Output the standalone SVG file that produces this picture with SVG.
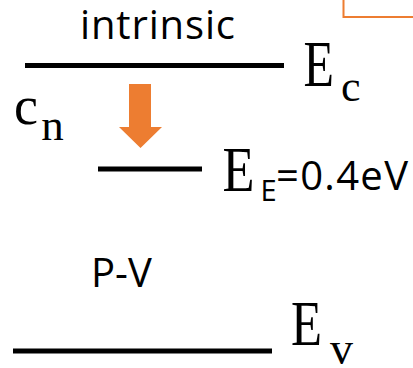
<svg xmlns="http://www.w3.org/2000/svg" width="413" height="368" viewBox="0 0 413 368">
  <style>
    .lvl { stroke: #000; stroke-width: 5; fill: none; }
    .sans { font-family: "Open Sans", "Liberation Sans", sans-serif; fill: #000; }
    .serif { font-family: "Liberation Serif", "Times New Roman", serif; fill: #000; }
    .orange { fill: #ED7D31; }
  </style>
  <rect x="0" y="0" width="413" height="368" fill="#fff"/>
  <g id="corner-box">
    <rect x="343.5" y="-10" width="80" height="27" fill="#fff" stroke="#ED7D31" stroke-width="2"/>
  </g>
  <g id="intrinsic-label">
    <text class="sans" x="80" y="39" font-size="40" textLength="155" lengthAdjust="spacing">intrinsic</text>
  </g>
  <g id="Ec">
    <line class="lvl" x1="25" y1="65.5" x2="284" y2="65.5"/>
    <text class="serif" x="303.5" y="86" font-size="65" textLength="30.5" lengthAdjust="spacingAndGlyphs">E</text>
    <text class="serif" x="341" y="100.5" font-size="44">c</text>
  </g>
  <g id="cn">
    <text class="serif" x="14" y="123.5" font-size="54">c</text>
    <text class="serif" x="41.3" y="140" font-size="45">n</text>
  </g>
  <g id="connectors">
    <polygon class="orange" points="129,84 151,84 151,127 162,127 140.5,148 119,127 129,127"/>
  </g>
  <g id="EE">
    <line class="lvl" x1="98" y1="169" x2="202" y2="169"/>
    <text class="serif" x="222.5" y="190.5" font-size="63" textLength="32" lengthAdjust="spacingAndGlyphs">E</text>
    <text class="sans" x="260.5" y="201" font-size="29">E</text>
    <text class="sans" x="276" y="189.5" font-size="40" textLength="132" lengthAdjust="spacing">=0.4eV</text>
  </g>
  <g id="PV-label">
    <text class="sans" x="91" y="287" font-size="40">P-V</text>
  </g>
  <g id="Ev">
    <line class="lvl" x1="13" y1="351" x2="272" y2="351"/>
    <text class="serif" x="291" y="345" font-size="63" textLength="31" lengthAdjust="spacingAndGlyphs">E</text>
    <text class="serif" x="330" y="363.5" font-size="46">v</text>
  </g>
</svg>
